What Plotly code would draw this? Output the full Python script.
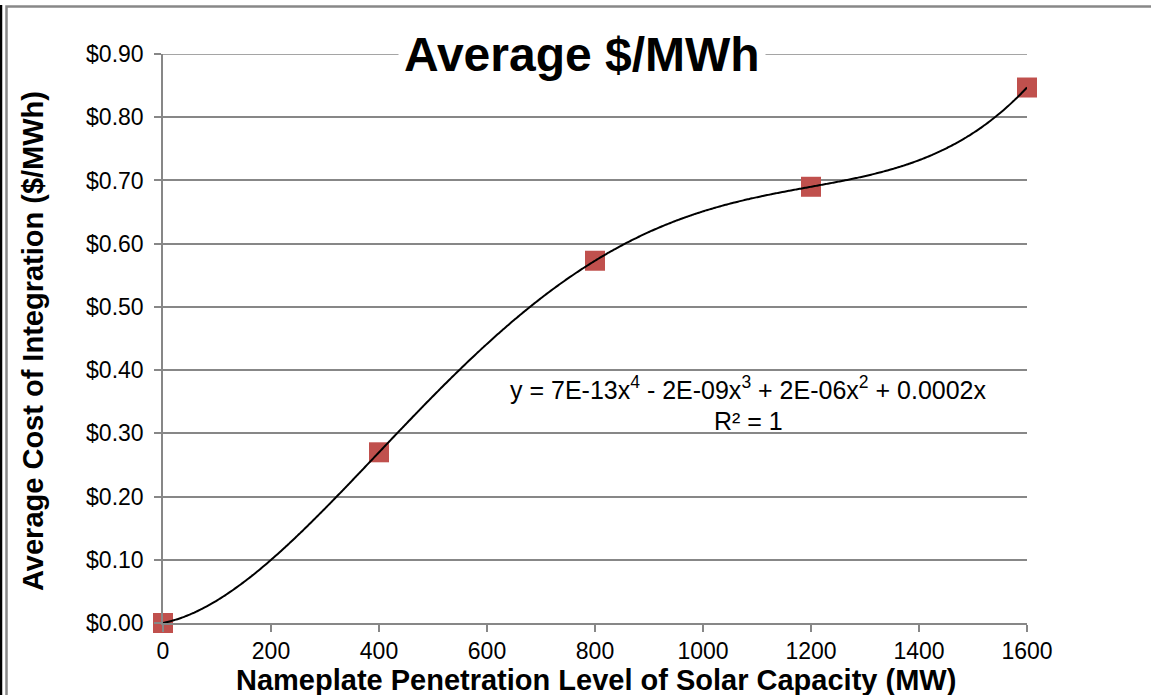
import numpy as np
import plotly.graph_objects as go

# Data
capacity_mw = [0, 400, 800, 1200, 1600]
avg_cost = [0.0, 0.27, 0.573, 0.69, 0.847]
x_ticks = [0, 200, 400, 600, 800, 1000, 1200, 1400, 1600]
y_ticks = [0.0, 0.1, 0.2, 0.3, 0.4, 0.5, 0.6, 0.7, 0.8, 0.9]

title_text = "Average $/MWh"
x_title = "Nameplate Penetration Level of Solar Capacity (MW)"
y_title = "Average Cost of Integration ($/MWh)"
eq_line1 = "y = 7E-13x<sup>4</sup> - 2E-09x<sup>3</sup> + 2E-06x<sup>2</sup> + 0.0002x"
eq_line2 = "R² = 1"

# 4th-order polynomial trendline through the points (as Excel does)
coef = np.polyfit(capacity_mw, avg_cost, 4)
trend_x = np.linspace(min(capacity_mw), max(capacity_mw), 400)
trend_y = np.polyval(coef, trend_x)

FONT = "Liberation Sans, Arial, sans-serif"
GRID = "#878787"

fig = go.Figure()
fig.add_trace(go.Scatter(
    x=capacity_mw, y=avg_cost, mode="markers", cliponaxis=False,
    marker=dict(symbol="square", size=20, color="#C0504D"),
    showlegend=False))
fig.add_trace(go.Scatter(
    x=trend_x, y=trend_y, mode="lines", cliponaxis=False,
    line=dict(color="black", width=2, shape="spline"), hoverinfo="skip", showlegend=False))

W, H = 1151, 695
L, R, T, B = 163, 1027, 54, 623

def px(x):
    return (x - L) / (R - L)

def py(y):
    return (B - y) / (B - T)

fig.update_layout(
    width=W, height=H,
    margin=dict(l=L, r=W - R, t=T, b=H - B, pad=0),
    paper_bgcolor="white", plot_bgcolor="white",
    font=dict(family=FONT, size=23, color="black"),
    showlegend=False,
    xaxis=dict(
        range=[0, 1600], tickvals=x_ticks, ticktext=[str(v) for v in x_ticks],
        showgrid=False, zeroline=False, showline=True, linecolor=GRID, linewidth=1.5,
        ticks="outside", ticklen=7, tickcolor=GRID, tickwidth=1.5,
        tickfont=dict(size=23, family=FONT, color="black"),
    ),
    yaxis=dict(
        range=[0, 0.9], tickvals=y_ticks,
        ticktext=["${:.2f}".format(v) for v in y_ticks],
        showgrid=True, gridcolor=GRID, gridwidth=1.5, zeroline=False,
        showline=True, linecolor=GRID, linewidth=1.5,
        ticks="outside", ticklen=7, tickcolor=GRID, tickwidth=1.5,
        ticklabelstandoff=6,
        tickfont=dict(size=23, family=FONT, color="black"),
    ),
)

# top gridline (at range edge)
fig.add_shape(type="line", xref="x", yref="y", x0=0, x1=1600,
              y0=y_ticks[-1], y1=y_ticks[-1],
              line=dict(color=GRID, width=1.5), layer="below")

fig.add_annotation(
    text="<b>" + title_text + "</b>", xref="paper", yref="paper",
    x=px(582), y=py(54), xanchor="center", yanchor="middle", showarrow=False,
    font=dict(size=48, family=FONT, color="black"),
    bgcolor="white", borderpad=5)

fig.add_annotation(
    text="<b>" + x_title + "</b>", xref="paper", yref="paper",
    x=px(596), y=py(680), xanchor="center", yanchor="middle", showarrow=False,
    font=dict(size=29, family=FONT, color="black"))

fig.add_annotation(
    text="<b>" + y_title + "</b>", xref="paper", yref="paper",
    x=px(33), y=py(341), xanchor="center", yanchor="middle", showarrow=False,
    textangle=-90, font=dict(size=29, family=FONT, color="black"))

fig.add_annotation(
    text=eq_line1, xref="paper", yref="paper",
    x=px(748), y=py(388), xanchor="center", yanchor="middle", showarrow=False,
    font=dict(size=25, family=FONT, color="black"))
fig.add_annotation(
    text=eq_line2, xref="paper", yref="paper",
    x=px(748), y=py(421), xanchor="center", yanchor="middle", showarrow=False,
    font=dict(size=25, family=FONT, color="black"))

# Chart-area border (cropped) and dark edge line
fig.add_shape(type="path", xref="paper", yref="paper",
              path=f"M {px(6.5)},{py(700)} L {px(6.5)},{py(6.5)} L {px(1160)},{py(6.5)}",
              line=dict(color="#888888", width=2.5), layer="above")
fig.add_shape(type="line", xref="paper", yref="paper",
              x0=px(1), x1=px(1), y0=py(5), y1=py(700),
              line=dict(color="black", width=2.5), layer="above")

fig.write_html("out.html")
